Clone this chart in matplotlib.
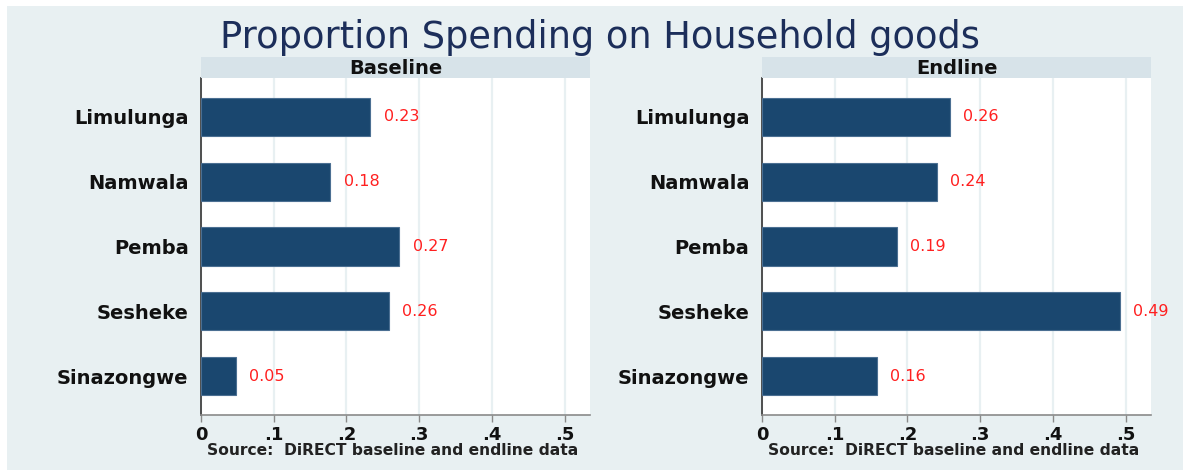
import numpy as np
import matplotlib
matplotlib.use("Agg")
import matplotlib.pyplot as plt
from matplotlib.patches import Rectangle

# data
regions = ["Limulunga", "Namwala", "Pemba", "Sesheke", "Sinazongwe"]
baseline = [0.233, 0.178, 0.273, 0.258, 0.048]
endline = [0.259, 0.241, 0.186, 0.492, 0.158]
panel_titles = ["Baseline", "Endline"]
xticks = [0, 0.1, 0.2, 0.3, 0.4, 0.5]
xtick_labels = ["0", ".1", ".2", ".3", ".4", ".5"]

W, H = 1183, 473
bg = "#E8F0F2"
strip_col = "#D7E3E9"
bar_col = "#1A476F"

plt.rcParams["font.family"] = ["DejaVu Sans"]

fig = plt.figure(figsize=(W / 100, H / 100), dpi=100, facecolor="white")

# light outer background
fig.patches.append(Rectangle((7 / W, 3 / H), 1 - 7 / W, (H - 9) / H,
                             transform=fig.transFigure, facecolor=bg,
                             edgecolor="none", zorder=-10))

fig.text(600 / W, 1 - 37 / H, "Proportion Spending on Household goods",
         ha="center", va="center", fontsize=26.5, color="#1C2E5A")


def px_box(x0, x1, ytop, ybot):
    return [x0 / W, 1 - ybot / H, (x1 - x0) / W, (ybot - ytop) / H]


def panel(x0, x1, vals, title):
    ax = fig.add_axes(px_box(x0, x1, 78, 415))
    ax.set_facecolor("white")
    y = np.arange(len(regions))
    ax.barh(y, vals, height=0.59, color=bar_col, edgecolor="#4B6F92",
            linewidth=0.8, zorder=3)
    for yi, v in zip(y, vals):
        ax.text(v + 0.018, yi, f"{v:.2f}", va="center", ha="left",
                color="#FF2020", fontsize=11.5, zorder=4)
    ax.set_ylim(len(regions) - 0.4, -0.6)
    ax.set_xlim(0, 0.535)
    ax.set_yticks(y)
    ax.set_yticklabels(regions, fontsize=14, fontweight="bold",
                       color="#111111")
    ax.tick_params(axis="y", length=0, pad=9)
    ax.set_xticks(xticks)
    ax.set_xticklabels(xtick_labels, fontsize=13, fontweight="bold",
                       color="#111111")
    ax.tick_params(axis="x", length=5, width=1, color="#8A8A8A", pad=3)
    ax.grid(axis="x", color=bg, linewidth=1.6, zorder=0)
    for s in ["top", "right"]:
        ax.spines[s].set_visible(False)
    ax.spines["left"].set_color("#333333")
    ax.spines["left"].set_linewidth(1.2)
    ax.spines["bottom"].set_color("#8A8A8A")
    ax.spines["bottom"].set_linewidth(1.2)

    strip = fig.add_axes(px_box(x0, x1, 57, 78))
    strip.set_facecolor(strip_col)
    strip.set_xticks([])
    strip.set_yticks([])
    for s in strip.spines.values():
        s.set_visible(False)
    strip.text(0.5, 0.45, title, ha="center", va="center", fontsize=14,
               fontweight="bold", color="#111111", transform=strip.transAxes)

    fig.text((x0 + 6) / W, 1 - 450 / H,
             "Source:  DiRECT baseline and endline data",
             ha="left", va="center", fontsize=11.2, fontweight="bold",
             color="#222222")
    return ax


panel(201, 590, baseline, panel_titles[0])
panel(762, 1151, endline, panel_titles[1])

fig.savefig("out.png", dpi=100, facecolor="white")
